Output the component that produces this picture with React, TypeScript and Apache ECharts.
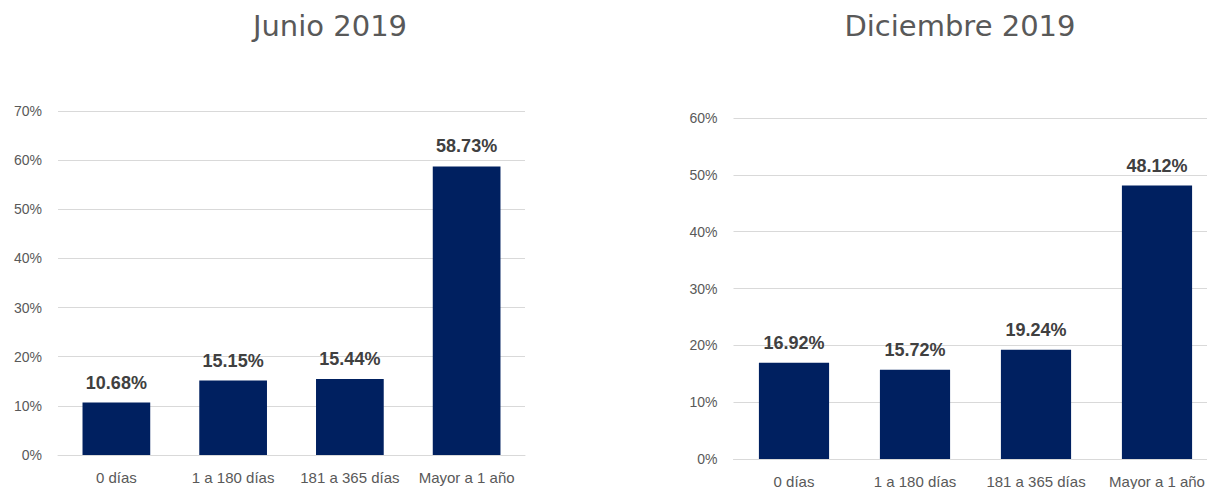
import React, { useEffect, useRef } from "react";
import * as echarts from "echarts";

const categories = ["0 días", "1 a 180 días", "181 a 365 días", "Mayor a 1 año"];
const junioValues = [10.68, 15.15, 15.44, 58.73];
const diciembreValues = [16.92, 15.72, 19.24, 48.12];
const titles = ["Junio 2019", "Diciembre 2019"];
const junioMax = 70;
const diciembreMax = 60;

const BAR = "#002060";
const GRID = "#d9d9d9";
const TXT = "#595959";
const LBL = "#404040";
const FONT = "'Liberation Sans', Arial, sans-serif";
const CHART_W = 1230;

export default function App() {
  const ref = useRef<HTMLDivElement>(null);
  useEffect(() => {
    if (!ref.current) return;
    const chart = echarts.init(ref.current, undefined, { renderer: "svg" });
    const xAxis = (gi: number) => ({
      type: "category",
      gridIndex: gi,
      data: categories,
      axisTick: { show: false },
      axisLine: { show: true, lineStyle: { color: GRID, width: 1 } },
      axisLabel: { color: TXT, fontSize: 15, fontFamily: FONT, margin: 15, interval: 0 },
    });
    const yAxis = (gi: number, max: number) => ({
      type: "value",
      gridIndex: gi,
      min: 0,
      max,
      interval: 10,
      axisLine: { show: false },
      axisTick: { show: false },
      splitLine: { lineStyle: { color: GRID, width: 1 } },
      axisLabel: { color: TXT, fontSize: 14, fontFamily: FONT, margin: 16, formatter: "{value}%" },
    });
    const series = (gi: number, data: number[]) => ({
      type: "bar",
      xAxisIndex: gi,
      yAxisIndex: gi,
      data,
      barWidth: "58%",
      itemStyle: { color: BAR },
      label: {
        show: true,
        position: "top",
        distance: 11,
        color: LBL,
        fontSize: 18,
        fontWeight: "bold",
        fontFamily: FONT,
        formatter: (p: any) => p.value.toFixed(2) + "%",
      },
    });
    chart.setOption({
      animation: false,
      backgroundColor: "#ffffff",
      graphic: [
        {
          type: "text",
          x: 330,
          y: 26,
          style: {
            text: titles[0],
            fill: TXT,
            font: "29px 'DejaVu Sans', Verdana, sans-serif",
            textAlign: "center",
            textVerticalAlign: "middle",
          },
        },
        {
          type: "text",
          x: 960,
          y: 26,
          style: {
            text: titles[1],
            fill: TXT,
            font: "29px 'DejaVu Sans', Verdana, sans-serif",
            textAlign: "center",
            textVerticalAlign: "middle",
          },
        },
      ],
      grid: [
        { left: 58, right: CHART_W - 525, top: 111, bottom: 34 },
        { left: 733.5, right: CHART_W - 1217.5, top: 118, bottom: 27 },
      ],
      xAxis: [xAxis(0), xAxis(1)],
      yAxis: [yAxis(0, junioMax), yAxis(1, diciembreMax)],
      series: [series(0, junioValues), series(1, diciembreValues)],
    });
    return () => chart.dispose();
  }, []);
  return (
    <div
      style={{ position: "fixed", left: 0, top: 0, width: 1207, height: 489, overflow: "hidden", background: "#fff" }}
    >
      <div ref={ref} style={{ width: CHART_W, height: 489 }} />
    </div>
  );
}
